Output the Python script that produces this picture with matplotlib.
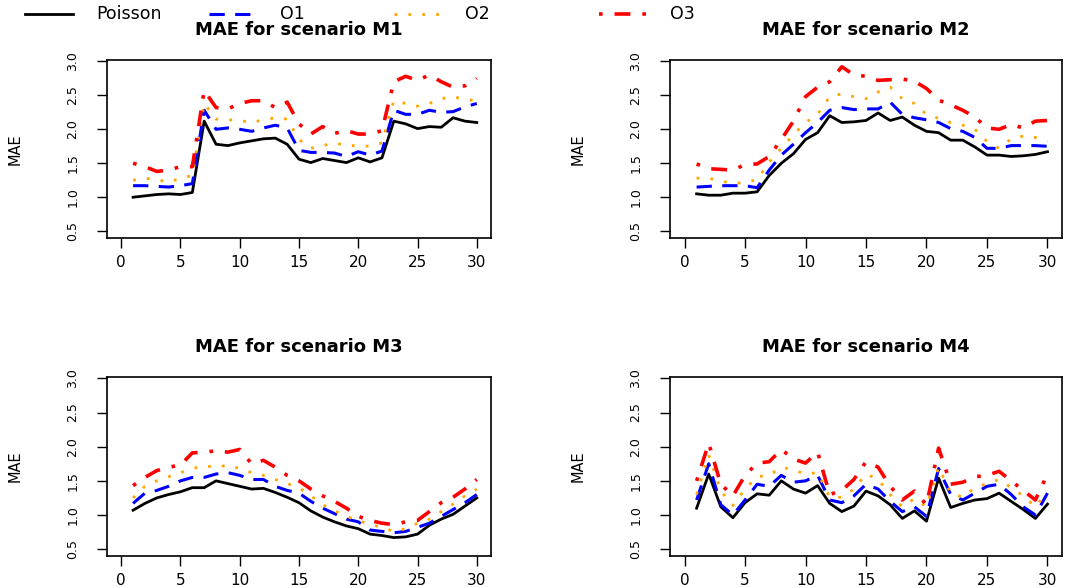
import numpy as np
import matplotlib
matplotlib.use("Agg")
import matplotlib.pyplot as plt
from matplotlib.lines import Line2D

# dane
x = np.arange(1, 31)
series = ["Poisson", "O1", "O2", "O3"]
scenarios = ["M1", "M2", "M3", "M4"]

m1_poisson = [1.00, 1.02, 1.04, 1.05, 1.04, 1.07, 2.12, 1.78, 1.76, 1.80, 1.83, 1.86, 1.87, 1.78, 1.56,
              1.51, 1.57, 1.54, 1.51, 1.58, 1.52, 1.58, 2.12, 2.08, 2.01, 2.04, 2.03, 2.17, 2.12, 2.10]
m1_o1 = [1.17, 1.17, 1.16, 1.15, 1.17, 1.20, 2.28, 2.00, 2.02, 2.00, 1.97, 2.02, 2.06, 2.02, 1.69,
         1.66, 1.66, 1.65, 1.60, 1.67, 1.62, 1.68, 2.28, 2.22, 2.22, 2.28, 2.25, 2.26, 2.33, 2.38]
m1_o2 = [1.25, 1.28, 1.26, 1.22, 1.28, 1.32, 2.38, 2.15, 2.14, 2.13, 2.10, 2.14, 2.17, 2.15, 1.85,
         1.72, 1.76, 1.80, 1.76, 1.76, 1.75, 1.80, 2.42, 2.38, 2.34, 2.38, 2.45, 2.48, 2.44, 2.42]
m1_o3 = [1.50, 1.45, 1.38, 1.40, 1.45, 1.45, 2.57, 2.32, 2.30, 2.38, 2.42, 2.42, 2.32, 2.40, 2.08,
         1.93, 2.04, 1.94, 1.98, 1.93, 1.93, 1.98, 2.70, 2.78, 2.72, 2.80, 2.70, 2.62, 2.64, 2.75]

m2_poisson = [1.05, 1.03, 1.03, 1.06, 1.06, 1.08, 1.32, 1.50, 1.64, 1.85, 1.95, 2.20, 2.10, 2.11, 2.13,
              2.24, 2.13, 2.18, 2.06, 1.97, 1.95, 1.84, 1.84, 1.74, 1.62, 1.62, 1.60, 1.61, 1.63, 1.67]
m2_o1 = [1.15, 1.16, 1.17, 1.17, 1.17, 1.14, 1.40, 1.62, 1.78, 1.95, 2.10, 2.28, 2.32, 2.29, 2.30,
         2.30, 2.40, 2.22, 2.17, 2.14, 2.10, 2.01, 1.97, 1.88, 1.72, 1.72, 1.76, 1.76, 1.76, 1.75]
m2_o2 = [1.28, 1.28, 1.24, 1.20, 1.22, 1.26, 1.52, 1.72, 1.92, 2.10, 2.22, 2.48, 2.52, 2.48, 2.45,
         2.55, 2.62, 2.45, 2.38, 2.22, 2.16, 2.10, 2.06, 2.00, 1.82, 1.72, 1.86, 1.90, 1.88, 1.82]
m2_o3 = [1.49, 1.42, 1.41, 1.40, 1.48, 1.49, 1.60, 1.85, 2.12, 2.48, 2.62, 2.70, 2.92, 2.80, 2.78,
         2.72, 2.73, 2.74, 2.71, 2.60, 2.43, 2.36, 2.28, 2.18, 2.02, 2.00, 2.07, 2.02, 2.12, 2.13]

m3_poisson = [1.07, 1.17, 1.25, 1.30, 1.34, 1.40, 1.40, 1.50, 1.46, 1.42, 1.38, 1.39, 1.33, 1.26, 1.18,
              1.06, 0.97, 0.90, 0.84, 0.80, 0.72, 0.70, 0.67, 0.68, 0.72, 0.85, 0.94, 1.01, 1.13, 1.25]
m3_o1 = [1.17, 1.32, 1.36, 1.42, 1.50, 1.55, 1.55, 1.60, 1.62, 1.58, 1.52, 1.52, 1.42, 1.36, 1.32,
         1.20, 1.10, 1.02, 0.94, 0.90, 0.78, 0.76, 0.74, 0.76, 0.82, 0.88, 0.98, 1.08, 1.18, 1.30]
m3_o2 = [1.25, 1.42, 1.50, 1.56, 1.62, 1.68, 1.72, 1.70, 1.73, 1.68, 1.62, 1.58, 1.52, 1.46, 1.40,
         1.28, 1.15, 1.06, 0.98, 0.92, 0.86, 0.82, 0.76, 0.80, 0.88, 0.94, 1.05, 1.16, 1.28, 1.38]
m3_o3 = [1.43, 1.55, 1.65, 1.70, 1.73, 1.91, 1.92, 1.94, 1.92, 1.96, 1.75, 1.80, 1.70, 1.58, 1.50,
         1.38, 1.28, 1.20, 1.10, 0.98, 0.92, 0.88, 0.86, 0.90, 0.92, 1.05, 1.18, 1.26, 1.38, 1.52]

m4_poisson = [1.10, 1.60, 1.12, 0.96, 1.18, 1.31, 1.29, 1.50, 1.38, 1.32, 1.43, 1.17, 1.05, 1.13, 1.35,
              1.28, 1.15, 0.95, 1.06, 0.91, 1.54, 1.11, 1.17, 1.22, 1.24, 1.32, 1.20, 1.08, 0.95, 1.16]
m4_o1 = [1.22, 1.75, 1.15, 1.00, 1.22, 1.45, 1.42, 1.58, 1.48, 1.50, 1.58, 1.22, 1.18, 1.28, 1.45,
         1.38, 1.20, 1.05, 1.12, 0.98, 1.68, 1.30, 1.22, 1.32, 1.42, 1.45, 1.30, 1.12, 1.00, 1.32]
m4_o2 = [1.30, 1.88, 1.35, 1.14, 1.38, 1.56, 1.58, 1.70, 1.66, 1.60, 1.62, 1.26, 1.26, 1.38, 1.60,
         1.52, 1.30, 1.12, 1.24, 1.12, 1.70, 1.32, 1.26, 1.40, 1.46, 1.52, 1.40, 1.28, 1.12, 1.34]
m4_o3 = [1.50, 2.05, 1.45, 1.28, 1.58, 1.76, 1.78, 1.96, 1.82, 1.76, 1.92, 1.30, 1.36, 1.52, 1.78,
         1.70, 1.42, 1.22, 1.35, 1.15, 1.98, 1.45, 1.48, 1.56, 1.58, 1.64, 1.50, 1.36, 1.22, 1.60]

data = {
    "M1": [m1_poisson, m1_o1, m1_o2, m1_o3],
    "M2": [m2_poisson, m2_o1, m2_o2, m2_o3],
    "M3": [m3_poisson, m3_o1, m3_o2, m3_o3],
    "M4": [m4_poisson, m4_o1, m4_o2, m4_o3],
}

# stilovi linija (kao u R: lty 1, 2, 3, 4)
styles = [
    dict(color="black", lw=2.0, ls="-"),
    dict(color="blue", lw=2.2, ls=(0, (5, 3.4))),
    dict(color="orange", lw=2.0, ls=(0, (1, 4))),
    dict(color="red", lw=2.6, ls=(0, (1, 3.3, 4.4, 3.3))),
]

W, H = 1068, 588
fig = plt.figure(figsize=(W / 100, H / 100), dpi=100)

# pozicije panela u pikselima: lijevo, gore, desno, dolje
boxes = [(107, 60, 491, 238), (670, 60, 1062, 238),
         (107, 377, 491, 556), (670, 377, 1062, 556)]

for sc, (l, t, r, b) in zip(scenarios, boxes):
    ax = fig.add_axes([l / W, 1 - b / H, (r - l) / W, (b - t) / H])
    for vals, st in zip(data[sc], styles):
        ax.plot(x, vals, color=st["color"], lw=st["lw"], linestyle=st["ls"])
    ax.set_xlim(-1.2, 31.2)
    ax.set_ylim(0.4, 3.02)
    ax.set_xticks(range(0, 31, 5))
    ax.set_yticks(np.arange(0.5, 3.01, 0.5))
    ax.set_yticklabels(["%.1f" % v for v in np.arange(0.5, 3.01, 0.5)],
                       rotation=90, va="center", fontsize=9)
    ax.tick_params(axis="x", labelsize=11, length=7, width=1, pad=5)
    ax.tick_params(axis="y", length=7, width=1, pad=13)
    for s in ax.spines.values():
        s.set_linewidth(1.2)
    ax.set_ylabel("MAE", fontsize=10.5)
    ax.yaxis.set_label_coords(-84 / (r - l), 0.5)
    ax.text(0.5, 1 + 30 / (b - t), "MAE for scenario " + sc, transform=ax.transAxes,
            ha="center", va="center", fontsize=13, fontweight="bold")

# legenda na vrhu (horizontalna, kao u R)
text_x = [96, 280, 465, 670]
ly = 1 - 14 / H
for name, st, tx in zip(series, styles, text_x):
    fig.add_artist(Line2D([(tx - 71) / W, (tx - 23) / W], [ly, ly], color=st["color"],
                          lw=st["lw"], linestyle=st["ls"], transform=fig.transFigure))
    fig.text(tx / W, ly, name, ha="left", va="center", fontsize=12.5)

fig.savefig("out.png", dpi=100)
